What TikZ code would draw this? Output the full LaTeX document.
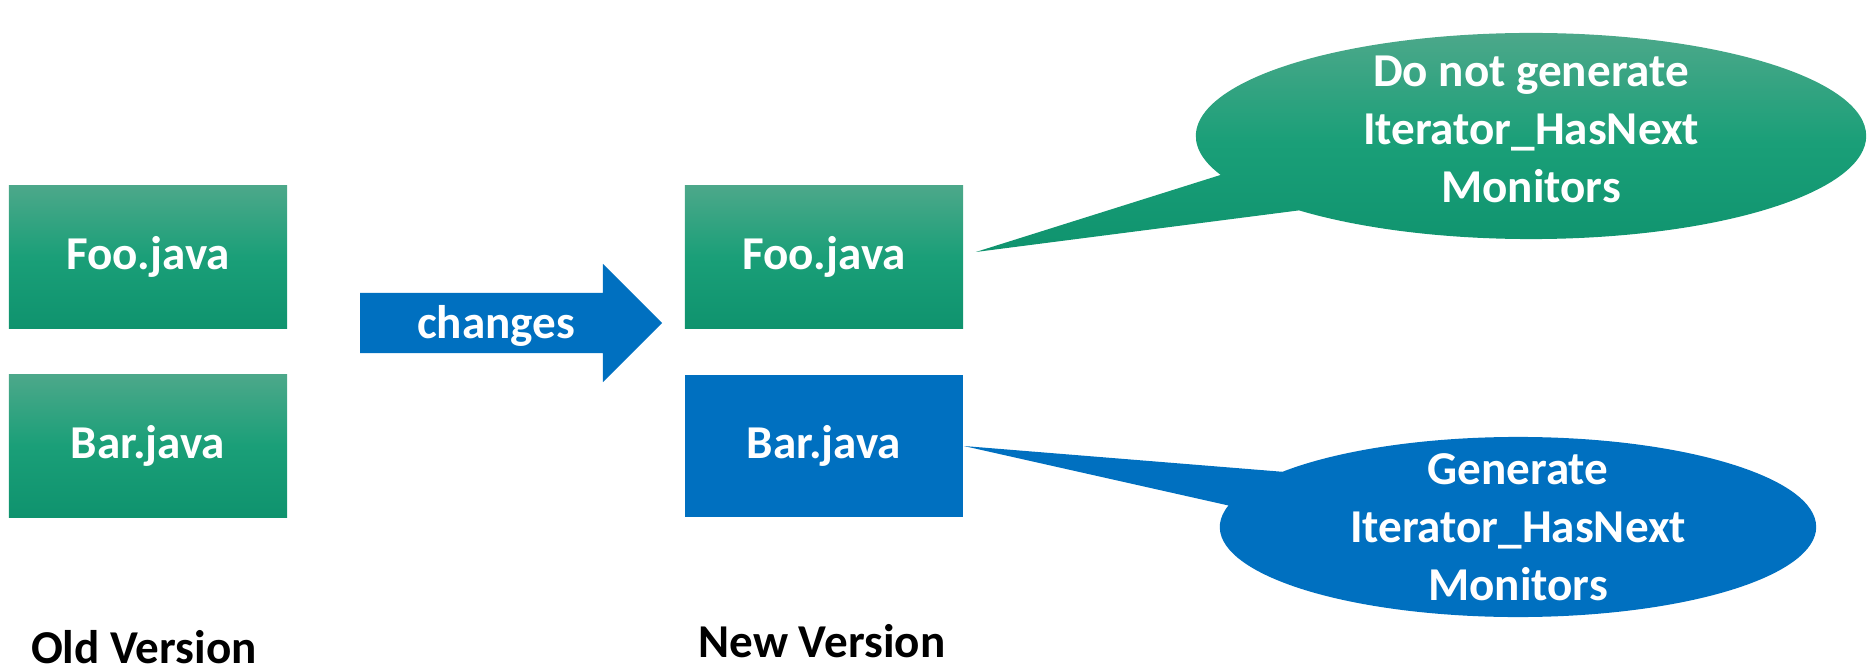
\documentclass[tikz,border=0pt]{standalone}
\usepackage{fontspec}
\setmainfont{Carlito}
\usetikzlibrary{shapes.arrows,shapes.callouts}

\definecolor{grtop}{RGB}{76,168,138}
\definecolor{grmid}{RGB}{26,159,120}
\definecolor{grbot}{RGB}{15,147,110}
\definecolor{msblue}{RGB}{0,112,192}

\begin{document}
\begin{tikzpicture}[x=0.01cm,y=-0.01cm,
font=\fontsize{13.4}{16.5}\selectfont\bfseries,
file/.style={minimum width=2.78cm,minimum height=1.42cm,inner sep=0pt,text=white},
greenfile/.style={file,top color=grtop,bottom color=grbot,middle color=grmid},
bluefile/.style={file,fill=msblue},
bubble/.style={ellipse callout,text=white,align=center,inner xsep=0pt,callout pointer arc=24}]

\useasboundingbox (0,0) rectangle (1876,670);

\node[greenfile] (oldfoo) at (148,257) {Foo.java};
\node[greenfile] (oldbar) at (148,446) {Bar.java};

\node[single arrow,fill=msblue,text=white,
single arrow head extend=0.29cm,single arrow head indent=0pt,
minimum height=3.02cm,text height=0.33cm,text depth=0.02cm,
inner ysep=0.12cm,inner xsep=0pt] (changes) at (496,323) {changes};

\node[greenfile] (newfoo) at (824,257) {Foo.java};
\node[bluefile] (newbar) at (824,446) {Bar.java};

\node[bubble,top color=grtop,bottom color=grbot,middle color=grmid,
minimum width=6.7cm,minimum height=2.06cm,text depth=0.14cm,inner ysep=-0.17cm,
callout absolute pointer={([xshift=0.12cm,yshift=0.05cm]newfoo.east)}]
(nogen) at (1531,136) {Do not generate\\Iterator\_HasNext\\Monitors};

\node[bubble,fill=msblue,
minimum width=5.96cm,minimum height=1.8cm,inner ysep=-0.2cm,
callout absolute pointer=(newbar.east)]
(gen) at (1518,527) {Generate\\Iterator\_HasNext\\Monitors};

\node[anchor=base,inner sep=0pt] (oldlabel) at (144,663) {Old Version};
\node[anchor=base,inner sep=0pt] (newlabel) at (822,657) {New Version};

\end{tikzpicture}
\end{document}
